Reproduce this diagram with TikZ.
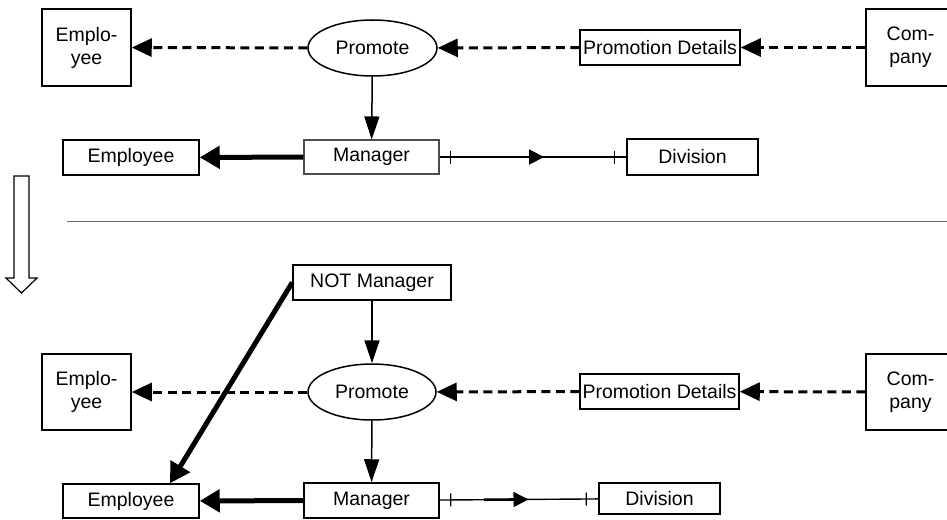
\documentclass[tikz,border=0pt]{standalone}
\usepackage{fontspec}
\setmainfont{Liberation Sans}
\usetikzlibrary{arrows.meta, decorations.markings, positioning, shapes}
\tikzset{
  box/.style = {
    draw, line width=1.5pt, inner sep=0pt, align=center,
    font=\fontsize{19.5}{23}\selectfont,
  },
  party/.style = {box, minimum width=89pt, minimum height=77pt},
  record/.style = {box, minimum height=35pt},
  action/.style = {box, ellipse, minimum width=129pt, minimum height=56pt},
  flow/.style = {line width=3pt, dash pattern=on 9pt off 5.5pt,
                 arrows={-Triangle[length=20pt, width=18pt]}},
  link/.style = {line width=1.5pt, arrows={-Triangle[length=23pt, width=15pt]}},
  strong link/.style = {line width=5pt, arrows={-Triangle[length=20pt, width=22pt]}},
  relation/.style = {line width=1.4pt, postaction={decorate},
    decoration={markings,
      mark=at position 11pt with {\draw [line width=1.4pt] (0,-6.5pt) -- (0,6.5pt);},
      mark=at position 0.28 with {\draw [line width=2.6pt] (0,0) -- (36pt,0);},
      mark=at position -12pt with {\draw [line width=1.4pt] (0,-6.5pt) -- (0,6.5pt);},
      mark=at position 0.56 with {\arrow{Triangle[length=15pt, width=15pt]}}}},
  rule/.style = {line width=1pt, black!60!white},
  step arrow/.style = {line width=1.2pt, fill=white},
}
\begin{document}
\begin{tikzpicture}[x=1pt, y=-1pt]
  %% Fix the page to the size of the picture
  \clip (0,0) rectangle (947,519);

  %% Before: the promotion of an employee to manager
  \node [party] (emp_a) at (86.5, 47.5) {Emplo-\\yee};
  \node [action] (promote_a) at (372.5, 48) {Promote};
  \node [record, minimum width=160pt] (details_a) at (660, 47.5) {Promotion Details};
  \node [party] (company_a) at (910.5, 47.5) {Com-\\pany};
  \node [record, minimum width=135pt, minimum height=34pt, draw=black!70!white, line width=1.1pt]
        (mgr_a) at (371.5, 157) {Manager};
  \node [record, minimum width=136pt] (emp_b) at (131, 157.5) {Employee};
  \node [record, minimum width=131pt, minimum height=36pt] (div_a) at (692.5, 157) {Division};

  \draw [flow] (company_a) -- (details_a);
  \draw [flow] (details_a) -- (promote_a);
  \draw [flow] (promote_a) -- (emp_a);
  \draw [link] (promote_a) -- (mgr_a);
  \draw [strong link] (mgr_a) -- (emp_b);
  \draw [relation] (mgr_a) -- (div_a);

  %% The step between the two versions
  \draw [step arrow] (14,176) -- (29,176) -- (29,278) -- (37,278) -- (21.5,293)
    -- (6,278) -- (14,278) -- cycle;
  \coordinate (rule_w) at (67, 221);
  \coordinate (rule_e) at (947, 221);
  \draw [rule] (rule_w) -- (rule_e);

  %% After: a manager who is not yet one
  \node [record, minimum width=158pt] (notmgr) at (372, 282.5) {NOT Manager};
  \node [action, minimum width=128pt] (promote_b) at (372, 392) {Promote};
  \node [party, minimum height=76pt] (emp_c) at (86.5, 392) {Emplo-\\yee};
  \node [record, minimum width=159pt] (details_b) at (659.5, 391.5) {Promotion Details};
  \node [party, minimum height=76pt] (company_b) at (910.5, 392) {Com-\\pany};
  \node [record, minimum width=135pt] (mgr_b) at (371.5, 500.5) {Manager};
  \node [record, minimum width=136pt, minimum height=34pt] (emp_d) at (131, 501) {Employee};
  \node [record, minimum width=121pt, minimum height=31pt] (div_b) at (659.5, 498.5) {Division};

  \draw [link] (notmgr) -- (promote_b);
  \draw [flow] (company_b) -- (details_b);
  \draw [flow] (details_b) -- (promote_b);
  \draw [flow] (promote_b) -- (emp_c);
  \draw [link] (promote_b) -- (mgr_b);
  \draw [strong link] (mgr_b) -- (emp_d);
  \draw [strong link] (notmgr.west) -- ([xshift=39pt] emp_d.north);
  \draw [relation] (mgr_b) -- (div_b);
\end{tikzpicture}
\end{document}
